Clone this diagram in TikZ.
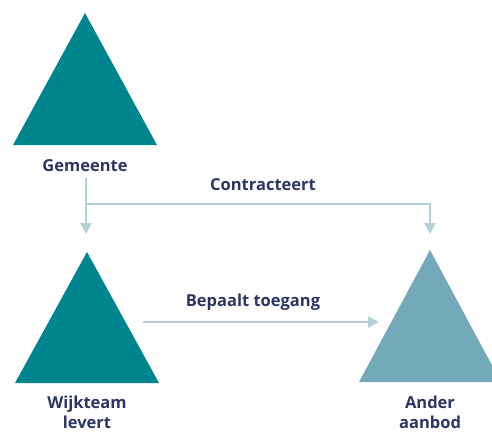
\documentclass[tikz,border=0pt]{standalone}
\usepackage{fontspec}
\setmainfont{Open Sans}
\usetikzlibrary{arrows.meta}
\definecolor{tealdark}{HTML}{00858F}
\definecolor{teallight}{HTML}{74A9B9}
\definecolor{arrowc}{HTML}{B5D0D8}
\definecolor{navy}{HTML}{2D3561}
\tikzset{
  lbl/.style={text=navy,font=\bfseries\fontsize{16.5}{20}\selectfont,inner sep=0pt,align=center},
  conn/.style={draw=arrowc,line width=2.2pt,-{Triangle[length=11pt,width=11pt]}}
}
\begin{document}
\begin{tikzpicture}[x=1pt,y=-1pt]
\useasboundingbox (0,0) rectangle (492,432);
\clip (0,0) rectangle (492,432);
% triangles
\fill[tealdark] (85,13) -- (157,145) -- (13,145) -- cycle;
\fill[tealdark] (87,252) -- (159,383) -- (15,383) -- cycle;
\fill[teallight] (430,250) -- (501,382) -- (359,382) -- cycle;
% labels
\node[lbl] (gem) at (85,166) {Gemeente};
\node[lbl] (wijk) at (87,412) {Wijkteam\\levert};
\node[lbl] (ander) at (430,412) {Ander\\aanbod};
\node[lbl] (contr) at (263,185) {Contracteert};
\node[lbl] (bepaalt) at (253,302) {Bepaalt toegang};
% connector points
\coordinate (gemb) at (86,178);
\coordinate (split) at (86,204);
\coordinate (wijt) at (86,234);
\coordinate (andt) at (430,234);
\coordinate (bs) at (143,322);
\coordinate (be) at (379,322);
\draw[conn] (gemb) -- (wijt);
\draw[conn] (split) -| (andt);
\draw[conn] (bs) -- (be);
\end{tikzpicture}
\end{document}
